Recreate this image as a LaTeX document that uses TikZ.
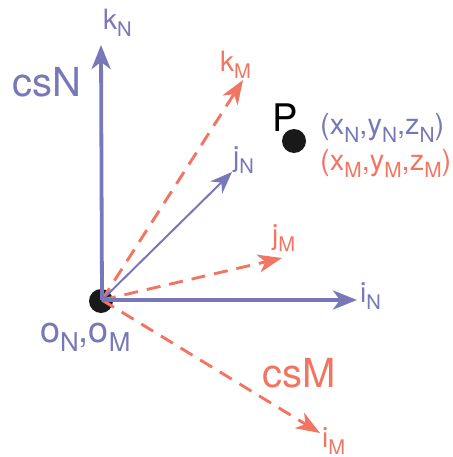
\documentclass[tikz,border=0pt]{standalone}
\usepackage{fontspec}
\usepackage{graphicx}
\setmainfont{TeX Gyre Heros}
\usetikzlibrary{arrows.meta}
\definecolor{cblue}{HTML}{7878B8}
\definecolor{cred}{HTML}{F27562}
\newcommand\sbs[1]{\raisebox{-0.25em}{\scalebox{0.72}{#1}}}
\tikzset{
  axisN/.style={draw=cblue, line width=3.8pt, -{Stealth[length=24pt,width=19pt,inset=7pt]}},
  axisNthin/.style={draw=cblue, line width=2pt, -{Stealth[length=22pt,width=17pt,inset=7pt]}},
  axisM/.style={draw=cred, line width=2.9pt, dash pattern=on 14pt off 9pt, -{Stealth[length=24pt,width=18pt,inset=7pt]}},
  lab/.style={anchor=base west, inner sep=0pt, font=\fontsize{28}{30}\selectfont},
  big/.style={anchor=base west, inner sep=0pt, font=\fontsize{40}{44}\selectfont},
  dot/.style={circle, fill=black!90, minimum size=24pt, inner sep=0pt}
}
\begin{document}
\begin{tikzpicture}[x=1pt,y=-1pt]
\useasboundingbox (0,0) rectangle (452,457);
\coordinate (O) at (102,300);
\coordinate (kN) at (101,45);
\coordinate (iN) at (357,300);
\coordinate (jN) at (232,172);
\coordinate (kM) at (243,80);
\coordinate (jM) at (282,258);
\coordinate (iM) at (320,433);
\node[dot] (Od) at (101,301) {};
\node[dot] (Pd) at (294,141) {};
\draw[axisM] (O) -- (kM);
\draw[axisM] (O) -- (jM);
\draw[axisM] (O) -- (iM);
\draw[axisN] (O) -- (kN);
\draw[axisN] (O) -- (iN);
\draw[axisNthin] (O) -- (jN);
\node[lab, text=cblue] (lkN) at (103,30) {k\sbs{N}};
\node[lab, text=cred] (lkM) at (220,72) {k\sbs{M}};
\node[lab, text=cblue] (ljN) at (233,166) {j\sbs{N}};
\node[lab, text=cred] (ljM) at (272,244) {j\sbs{M}};
\node[lab, text=cblue] (liN) at (360,302) {i\sbs{N}};
\node[lab, text=cred] (liM) at (322,447) {i\sbs{M}};
\node[big, text=cblue] (csN) at (12,97) {csN};
\node[big, text=cred] (csM) at (262,387) {csM};
\node[anchor=base west, inner sep=0pt, font=\fontsize{36}{40}\selectfont, text=cblue] (lO) at (40,342) {o\sbs{N},o\sbs{M}};
\node[anchor=base west, inner sep=0pt, font=\fontsize{38}{40}\selectfont, text=black] (lP) at (272,132) {P};
\node[anchor=base west, inner sep=0pt, font=\fontsize{29}{32}\selectfont, text=cblue] (cN) at (320,135) {(x\sbs{N},y\sbs{N},z\sbs{N})};
\node[anchor=base west, inner sep=0pt, font=\fontsize{29}{32}\selectfont, text=cred] (cM) at (320,170) {(x\sbs{M},y\sbs{M},z\sbs{M})};
\end{tikzpicture}
\end{document}
